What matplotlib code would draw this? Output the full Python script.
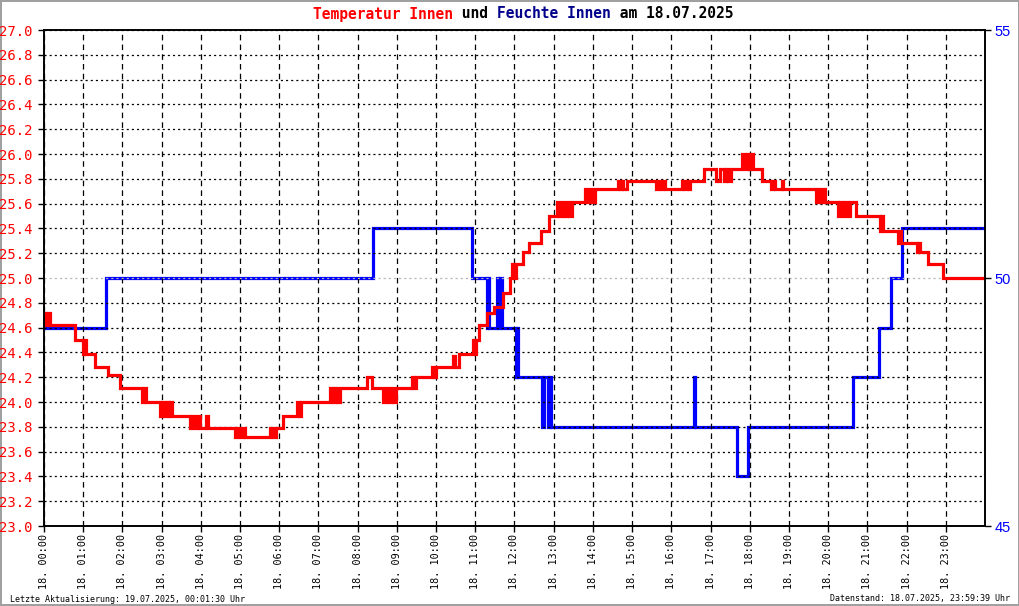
import numpy as np
import matplotlib as mpl; mpl.use('Agg')
import matplotlib.pyplot as plt

mpl.rcParams.update({'lines.scale_dashes': False, 'font.family': 'DejaVu Sans Mono'})

# temperature (degC) as step points: hour of day, value
temp_t = [0.00, 0.05, 0.10, 0.16, 0.20, 0.79, 1.00, 1.03, 1.07, 1.30, 1.63, 1.94,
          2.50, 2.55, 2.60, 2.96, 3.00, 3.09, 3.13, 3.18, 3.22, 3.27,
          3.72, 3.78, 3.85, 3.92, 3.98, 4.14, 4.18,
          4.87, 4.93, 5.00, 5.07, 5.12, 5.77, 5.85, 5.92, 6.10,
          6.45, 6.50, 6.56, 7.30, 7.36, 7.42, 7.48, 7.55,
          8.24, 8.37, 8.65, 8.72, 8.78, 8.85, 8.90, 8.98,
          9.39, 9.44, 9.50, 9.90, 9.95, 10.00, 10.43, 10.47, 10.59,
          10.94, 10.99, 11.03, 11.10, 11.30, 11.48, 11.71, 11.89, 11.94, 11.98, 12.04,
          12.22, 12.37, 12.68, 12.88,
          13.09, 13.13, 13.22, 13.27, 13.33, 13.38, 13.47,
          13.80, 13.85, 13.92, 13.97, 14.06,
          14.64, 14.68, 14.74, 14.78, 14.87,
          15.61, 15.66, 15.72, 15.78, 15.83,
          16.28, 16.33, 16.40, 16.44, 16.48, 16.84,
          17.14, 17.24, 17.35, 17.40, 17.45, 17.53,
          17.81, 17.87, 17.93, 17.99, 18.04, 18.09,
          18.32, 18.55, 18.60, 18.65, 18.82, 18.86,
          19.69, 19.74, 19.80, 19.86, 19.92,
          20.26, 20.31, 20.37, 20.43, 20.50, 20.56, 20.71,
          21.33, 21.36, 21.40, 21.79, 21.82, 21.86,
          22.27, 22.30, 22.34, 22.55, 22.93, 24.00]
temp_v = [24.72, 24.62, 24.72, 24.62, 24.62, 24.50, 24.39, 24.50, 24.39, 24.28, 24.22, 24.11,
          24.00, 24.11, 24.00, 23.89, 24.00, 23.89, 24.00, 23.89, 24.00, 23.89,
          23.79, 23.89, 23.79, 23.89, 23.79, 23.89, 23.79,
          23.72, 23.79, 23.72, 23.79, 23.72, 23.79, 23.72, 23.79, 23.89,
          24.00, 23.89, 24.00, 24.11, 24.00, 24.11, 24.00, 24.11,
          24.20, 24.11, 24.00, 24.11, 24.00, 24.11, 24.00, 24.11,
          24.20, 24.11, 24.20, 24.28, 24.20, 24.28, 24.37, 24.28, 24.39,
          24.50, 24.39, 24.50, 24.62, 24.72, 24.77, 24.88, 25.00, 25.11, 25.00, 25.11,
          25.21, 25.28, 25.38, 25.50,
          25.61, 25.50, 25.61, 25.50, 25.61, 25.50, 25.61,
          25.72, 25.61, 25.72, 25.61, 25.72,
          25.78, 25.72, 25.78, 25.72, 25.78,
          25.72, 25.78, 25.72, 25.78, 25.72,
          25.78, 25.72, 25.78, 25.72, 25.78, 25.88,
          25.78, 25.88, 25.78, 25.88, 25.78, 25.88,
          26.00, 25.88, 26.00, 25.88, 26.00, 25.88,
          25.78, 25.72, 25.78, 25.72, 25.78, 25.72,
          25.61, 25.72, 25.61, 25.72, 25.61,
          25.50, 25.61, 25.50, 25.61, 25.50, 25.61, 25.50,
          25.38, 25.50, 25.38, 25.28, 25.38, 25.28,
          25.21, 25.28, 25.21, 25.11, 25.00, 25.00]

# humidity (%) as step points
hum_t = [0.00, 1.58, 8.39, 10.92, 11.30, 11.33, 11.36, 11.56, 11.59, 11.62, 11.68,
         12.04, 12.07, 12.10, 12.70, 12.76, 12.86, 12.90, 12.93,
         16.58, 16.61, 17.68, 17.96, 20.64, 21.30, 21.60, 21.89, 24.00]
hum_v = [49, 50, 51, 50, 49, 50, 49, 50, 49, 50, 49,
         48, 49, 48, 47, 48, 47, 48, 47,
         48, 47, 46, 47, 48, 49, 50, 51, 51]

hours = list(range(24))
hour_labels = ['18. %02d:00' % h for h in hours]
temp_ticks = [round(23.0 + 0.2 * i, 1) for i in range(21)]
hum_ticks = [45, 50, 55]

fig = plt.figure(figsize=(10.2, 6.06), dpi=100)
fig.patch.set_edgecolor('#a0a0a0'); fig.patch.set_linewidth(1.5)
ax = fig.add_axes([44 / 1020, 80 / 606, 941 / 1020, 496 / 606])
ax2 = ax.twinx()
ax.set_zorder(ax2.get_zorder() + 1); ax.patch.set_visible(False)

ax2.plot(hum_t, hum_v, drawstyle='steps-post', color='#0000ff', lw=2.3, solid_joinstyle='miter')
ax.plot(temp_t, temp_v, drawstyle='steps-post', color='#ff0000', lw=2.3, solid_joinstyle='miter')

ax.set_xlim(0, 24); ax.set_ylim(23.0, 27.0); ax2.set_ylim(45, 55)
ax.set_xticks(hours); ax.set_xticklabels(hour_labels, rotation=90, fontsize=7.3, va='top')
ax.set_yticks(temp_ticks); ax.set_yticklabels(['%.1f' % v for v in temp_ticks], fontsize=10, color='#ff0000')
ax2.set_yticks(hum_ticks); ax2.set_yticklabels([str(v) for v in hum_ticks], fontsize=10.5, color='#0000ff',
                                               family='Liberation Sans')
ax.tick_params(axis='y', length=4, width=1, pad=4)
ax.tick_params(axis='x', length=4, width=1, pad=2)
ax2.tick_params(axis='y', length=4, width=1, pad=3)

ax.xaxis.grid(True, color='black', lw=0.9, linestyle=(0, (4, 3)))
ax.yaxis.grid(True, color='black', lw=0.9, linestyle=(0, (1.5, 2.2)))
ax.yaxis.get_gridlines()[10].set_color('#b4b4b4')
for a in (ax, ax2):
    for s in a.spines.values():
        s.set_linewidth(1.2); s.set_color('black')

# multicoloured title, monospace so each segment follows by character count
parts = [('Temperatur Innen', '#ff0000'), (' und ', 'black'), ('Feuchte Innen', '#00008b'), (' am 18.07.2025', 'black')]
cw = 0.602 * 10.5 * 100 / 72
x0 = 313
for txt, col in parts:
    fig.text(x0 / 1020, 1 - 14 / 606, txt, color=col, fontsize=10.5, weight='bold', va='center', ha='left')
    x0 += len(txt) * cw

fig.text(10 / 1020, 7 / 606, 'Letzte Aktualisierung: 19.07.2025, 00:01:30 Uhr', fontsize=6, va='center', ha='left')
fig.text(1010 / 1020, 7 / 606, 'Datenstand: 18.07.2025, 23:59:39 Uhr', fontsize=6, va='center', ha='right')

fig.savefig('out.png', dpi=100)
